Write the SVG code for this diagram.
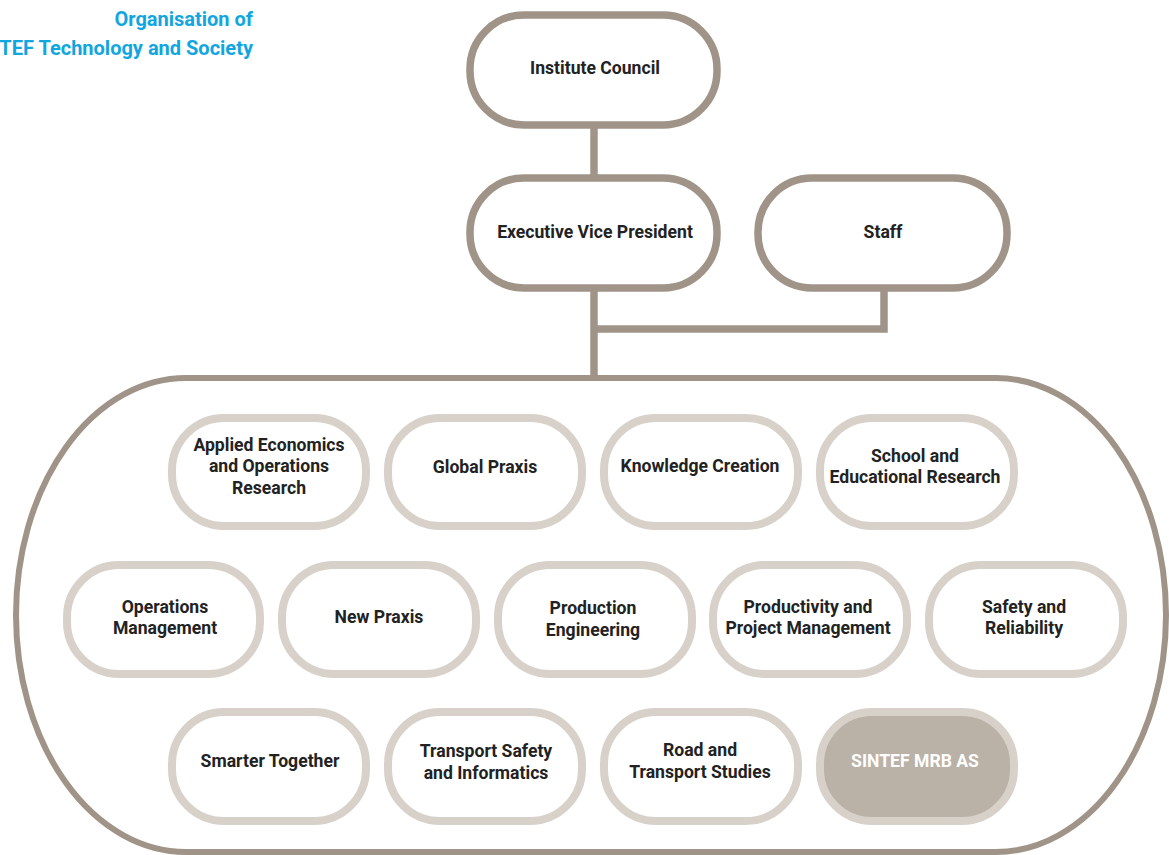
<svg xmlns="http://www.w3.org/2000/svg" width="1169" height="855" viewBox="0 0 1169 855">
<style>
.top rect{fill:#fff;stroke:#a09488;stroke-width:7.5}
.unit rect{fill:#fff;stroke:#d7d1ca;stroke-width:8}
.unit.filled rect{fill:#bab1a7}
.conn{stroke:#a09488;stroke-width:7.5;fill:none}
.container{fill:none;stroke:#a09488;stroke-width:6}
text{font-family:Roboto,"Liberation Sans",sans-serif;font-weight:700;font-size:17.6px;fill:#222;text-anchor:middle}
.title{fill:#12a6df;font-size:20px;text-anchor:end}
.unit.filled text{fill:#fff}
</style>
<rect width="1169" height="855" fill="#fff"/>
<g id="title">
<text class="title" x="253" y="26">Organisation of</text>
<text class="title" x="253" y="55">TEF Technology and Society</text>
</g>
<g id="connectors">
<line class="conn" x1="594" y1="125" x2="594" y2="178"/>
<polyline class="conn" points="594,289 594,378"/>
<polyline class="conn" points="594,329 884,329 884,289"/>
</g>
<g id="container">
<rect class="container" x="16" y="378" width="1150" height="474" rx="170" ry="237"/>
</g>
<g id="institute-council" class="top"><rect x="470" y="15" width="247" height="110" rx="54"/><text x="595" y="74">Institute Council</text></g>
<g id="executive-vice-president" class="top"><rect x="470" y="178" width="247" height="110" rx="54"/><text x="595" y="238">Executive Vice President</text></g>
<g id="staff" class="top"><rect x="758" y="178" width="249" height="110" rx="54"/><text x="883" y="238">Staff</text></g>

<g id="applied-economics" class="unit"><rect x="172" y="418" width="194" height="108" rx="52"/><text x="269" y="451">Applied Economics</text><text x="269" y="472">and Operations</text><text x="269" y="494">Research</text></g>
<g id="global-praxis" class="unit"><rect x="388" y="418" width="194" height="108" rx="52"/><text x="485" y="473">Global Praxis</text></g>
<g id="knowledge-creation" class="unit"><rect x="604" y="418" width="194" height="108" rx="52"/><text x="700" y="472">Knowledge Creation</text></g>
<g id="school-educational" class="unit"><rect x="820" y="418" width="194" height="108" rx="52"/><text x="915" y="462">School and</text><text x="915" y="483">Educational Research</text></g>

<g id="operations-management" class="unit"><rect x="67" y="565" width="193" height="109" rx="52"/><text x="165" y="613">Operations</text><text x="165" y="634">Management</text></g>
<g id="new-praxis" class="unit"><rect x="282" y="565" width="194" height="109" rx="52"/><text x="379" y="623">New Praxis</text></g>
<g id="production-engineering" class="unit"><rect x="498" y="565" width="194" height="109" rx="52"/><text x="593" y="614">Production</text><text x="593" y="636">Engineering</text></g>
<g id="productivity-project" class="unit"><rect x="713" y="565" width="194" height="109" rx="52"/><text x="808" y="613">Productivity and</text><text x="808" y="634">Project Management</text></g>
<g id="safety-reliability" class="unit"><rect x="929" y="565" width="194" height="109" rx="52"/><text x="1024" y="613">Safety and</text><text x="1024" y="634">Reliability</text></g>

<g id="smarter-together" class="unit"><rect x="172" y="712" width="194" height="109" rx="52"/><text x="270" y="767">Smarter Together</text></g>
<g id="transport-safety" class="unit"><rect x="388" y="712" width="194" height="109" rx="52"/><text x="486" y="757">Transport Safety</text><text x="486" y="779">and Informatics</text></g>
<g id="road-transport" class="unit"><rect x="604" y="712" width="194" height="109" rx="52"/><text x="700" y="756">Road and</text><text x="700" y="778">Transport Studies</text></g>
<g id="sintef-mrb" class="unit filled"><rect x="820" y="712" width="194" height="109" rx="52"/><text x="915" y="767">SINTEF MRB AS</text></g>
</svg>
